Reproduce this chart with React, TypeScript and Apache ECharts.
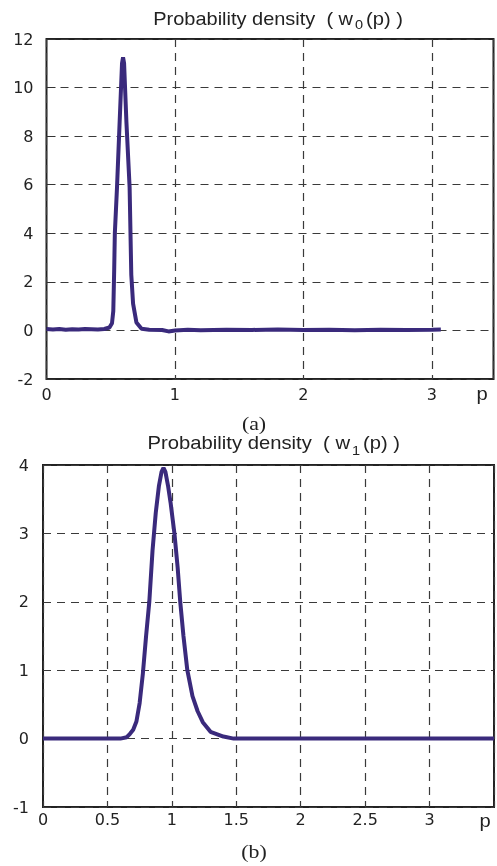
import React, { useEffect, useRef } from "react";
import * as echarts from "echarts";

// Panel (a): w0(p)
const pA = [0, 0.05, 0.1, 0.15, 0.2, 0.25, 0.3, 0.35, 0.4, 0.45, 0.49, 0.51, 0.52, 0.527, 0.532, 0.549, 0.57, 0.588, 0.596, 0.604, 0.622, 0.647, 0.66, 0.674, 0.7, 0.74, 0.8, 0.9, 0.95, 1.0, 1.1, 1.2, 1.4, 1.6, 1.8, 2.0, 2.2, 2.4, 2.6, 2.8, 3.0, 3.07];
const wA = [0.06, 0.04, 0.06, 0.03, 0.05, 0.04, 0.06, 0.05, 0.04, 0.06, 0.12, 0.3, 0.8, 2.5, 4.0, 5.9, 8.66, 11.0, 11.25, 11.0, 8.6, 5.9, 2.3, 1.1, 0.33, 0.07, 0.03, 0.02, -0.04, 0.0, 0.03, 0.01, 0.03, 0.02, 0.04, 0.02, 0.03, 0.01, 0.03, 0.02, 0.03, 0.04];

// Panel (b): w1(p)
const pB = [0, 0.3, 0.6, 0.65, 0.675, 0.7, 0.725, 0.75, 0.775, 0.8, 0.825, 0.85, 0.875, 0.9, 0.92, 0.935, 0.95, 0.97, 0.99, 1.02, 1.045, 1.065, 1.09, 1.12, 1.16, 1.2, 1.24, 1.3, 1.4, 1.48, 2.0, 2.5, 3.0, 3.5];
const wB = [0, 0, 0, 0.02, 0.07, 0.13, 0.25, 0.52, 0.95, 1.5, 2.0, 2.75, 3.3, 3.7, 3.9, 3.96, 3.9, 3.7, 3.45, 3.0, 2.5, 2.0, 1.5, 1.0, 0.62, 0.4, 0.24, 0.1, 0.03, 0.0, 0, 0, 0, 0];

const titleA = ["Probability density  ( w", "0", "(p) )"];
const titleB = ["Probability density  ( w", "1", "(p) )"];
const captions = ["(a)", "(b)"];
const xName = "p";

const LINE = "#3a2a7c";
const TXT = "#222";
const GRIDC = "#3a3a3a";

export default function App() {
  const ref = useRef<HTMLDivElement>(null);
  useEffect(() => {
    if (!ref.current) return;
    const chart = echarts.init(ref.current, null, { renderer: "svg" });
    const axisLabelBase = { fontFamily: "DejaVu Sans", fontSize: 16, color: TXT };
    const split = { show: true, lineStyle: { color: GRIDC, type: [8, 6], width: 1.2 } };
    const txt = (x: number, y: number, text: string, size: number, align: string, family = "Liberation Sans", sx = 1.12) => ({
      type: "text",
      x,
      y,
      scaleX: sx,
      style: { text, fontSize: size, fontFamily: family, fill: TXT, align, verticalAlign: "middle" },
    });
    chart.setOption({
      animation: false,
      grid: [
        { left: 46.5, top: 39, width: 447, height: 340, show: true, borderColor: "#222", borderWidth: 2, backgroundColor: "transparent" },
        { left: 43, top: 465, width: 451, height: 342, show: true, borderColor: "#222", borderWidth: 2, backgroundColor: "transparent" },
      ],
      xAxis: [
        {
          gridIndex: 0, type: "value", min: 0, max: 3.48, interval: 1,
          axisLine: { show: false }, axisTick: { show: false },
          axisLabel: { ...axisLabelBase, margin: 7, showMaxLabel: false },
          splitLine: split,
        },
        {
          gridIndex: 1, type: "value", min: 0, max: 3.5, interval: 0.5,
          axisLine: { show: false }, axisTick: { show: false },
          axisLabel: { ...axisLabelBase, margin: 4, showMaxLabel: false },
          splitLine: split,
        },
      ],
      yAxis: [
        {
          gridIndex: 0, type: "value", min: -2, max: 12, interval: 2,
          axisLine: { show: false },
          axisTick: { show: true, inside: true, length: 9, lineStyle: { color: "#333" } },
          axisLabel: { ...axisLabelBase, margin: 13, padding: [6, 0, 0, 0] },
          splitLine: split,
        },
        {
          gridIndex: 1, type: "value", min: -1, max: 4, interval: 1,
          axisLine: { show: false }, axisTick: { show: false },
          axisLabel: { ...axisLabelBase, margin: 14, padding: [3, 0, 0, 0] },
          splitLine: split,
        },
      ],
      series: [
        {
          type: "line", xAxisIndex: 0, yAxisIndex: 0, showSymbol: false,
          lineStyle: { color: LINE, width: 4 },
          data: pA.map((p, i) => [p, wA[i]]),
        },
        {
          type: "line", xAxisIndex: 1, yAxisIndex: 1, showSymbol: false,
          lineStyle: { color: LINE, width: 4 },
          data: pB.map((p, i) => [p, wB[i]]),
        },
      ],
      graphic: [
        txt(353, 18.5, titleA[0], 18, "right", "Liberation Sans", 1.11),
        txt(355, 25, titleA[1], 13, "left"),
        txt(366, 18.5, titleA[2], 18, "left"),
        txt(350, 442.5, titleB[0], 18, "right", "Liberation Sans", 1.125),
        txt(352, 451, titleB[1], 13, "left"),
        txt(363, 442.5, titleB[2], 18, "left"),
        txt(254, 423.5, captions[0], 19, "center", "Liberation Serif", 1.15),
        txt(254, 852, captions[1], 19, "center", "Liberation Serif", 1.15),
        txt(482, 394, xName, 18, "center"),
        txt(485, 821, xName, 18, "center"),
      ],
    });
    return () => chart.dispose();
  }, []);
  return <div ref={ref} style={{ position: "fixed", left: 0, top: 0, width: 497, height: 866 }} />;
}
